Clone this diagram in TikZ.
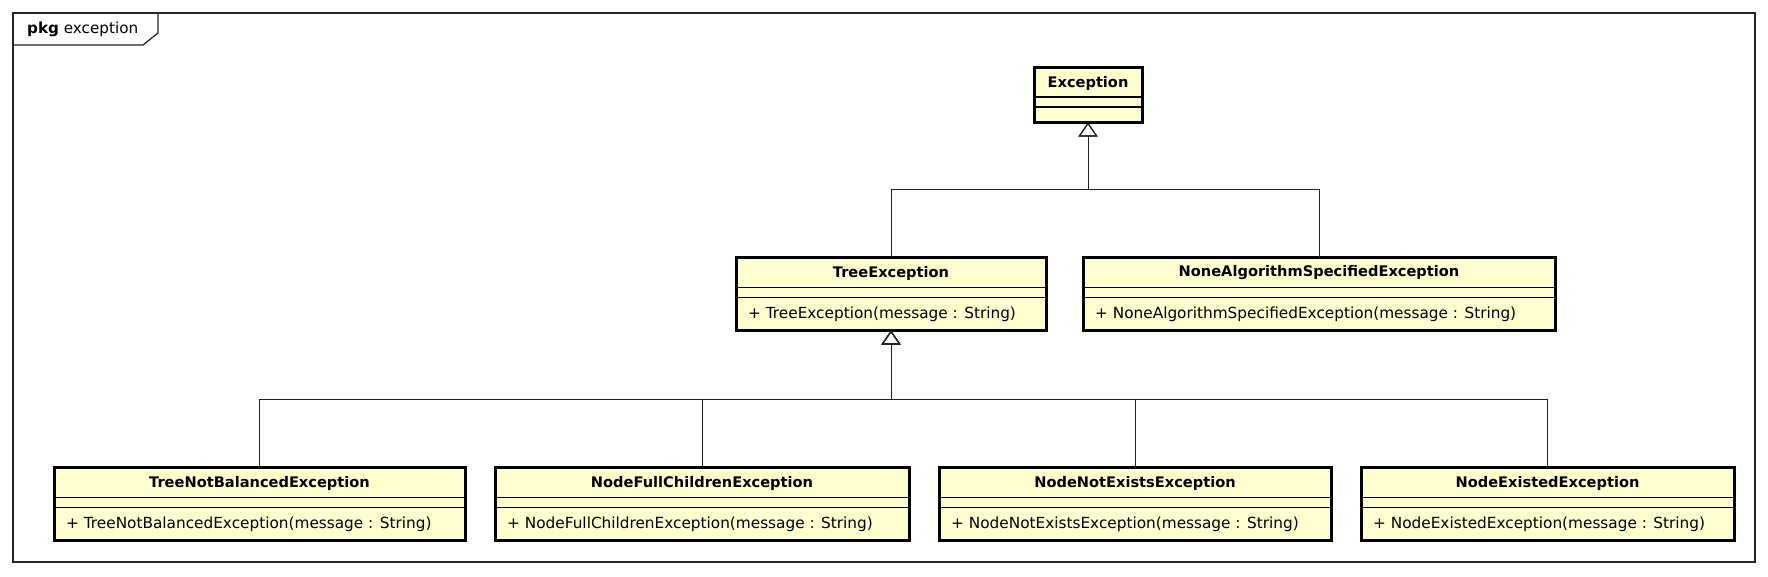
\documentclass[tikz,border=0pt]{standalone}
\usepackage{fontspec}
\setmainfont{DejaVu Sans}
\usetikzlibrary{arrows.meta}
\definecolor{classfill}{HTML}{FEFECE}
\definecolor{linegray}{HTML}{222222}
\tikzset{
  classbox/.style={draw=black, fill=classfill, line width=3pt, inner sep=0pt, outer sep=0pt, rectangle},
  sepline/.style={draw=black, line width=1.2pt},
  titletext/.style={inner sep=0pt, font=\fontsize{14.6}{17}\selectfont\bfseries},
  methtext/.style={inner sep=0pt, anchor=west, font=\fontsize{15.3}{17}\selectfont},
  gen/.style={draw=linegray, line width=1pt, -{Triangle[open, length=14pt, width=19pt, line width=1.1pt]}},
  frameline/.style={draw=black!85, line width=1.2pt},
}
\newcommand\umlclass[7]{%
  \node[classbox, minimum width={#4-#2}, minimum height={#5-#3}, anchor=north west] (#1) at (#2,#3) {};
  \draw[sepline] (#2,#3+30) -- (#4,#3+30);
  \draw[sepline] (#2,#3+40) -- (#4,#3+40);
  \node[titletext] (#1-t) at ({(#2+#4)/2},#3+15.5) {#6};
  \node[methtext] (#1-m) at (#2+12,#3+56.5) {#7};
}
\begin{document}
\begin{tikzpicture}[x=1pt, y=-1pt]
\useasboundingbox (0,0) rectangle (1768,576);
% package frame
\draw[frameline] (13,13) rectangle (1755,562);
\draw[frameline] (13,45) -- (143,45) -- (158,33) -- (158,13);
\node[anchor=west, inner sep=0pt, font=\fontsize{15.2}{17}\selectfont] (pkglabel) at (27,29.5) {\textbf{pkg} exception};
% Exception
\node[classbox, minimum width=108, minimum height=55, anchor=north west] (exc) at (1034,67.5) {};
\draw[sepline] (1034,97) -- (1142,97);
\draw[sepline] (1034,107) -- (1142,107);
\node[titletext] (exc-t) at (1088,83) {Exception};
% classes
\umlclass{te}{736}{257.5}{1046}{330.5}{TreeException}{+ TreeException(message : String)}
\umlclass{nas}{1083}{257.5}{1555}{330.5}{NoneAlgorithmSpecifiedException}{+ NoneAlgorithmSpecifiedException(message : String)}
\umlclass{tnb}{54}{467.5}{465}{540.5}{TreeNotBalancedException}{+ TreeNotBalancedException(message : String)}
\umlclass{nfc}{495}{467.5}{909}{540.5}{NodeFullChildrenException}{+ NodeFullChildrenException(message : String)}
\umlclass{nne}{939}{467.5}{1331}{540.5}{NodeNotExistsException}{+ NodeNotExistsException(message : String)}
\umlclass{nex}{1361}{467.5}{1734}{540.5}{NodeExistedException}{+ NodeExistedException(message : String)}
% connectors
\coordinate (bus1) at (1088,189);
\coordinate (bus2) at (891,399);
\draw[gen] (te.north) |- (bus1) -- (exc.south);
\draw[gen] (nas.north) |- (bus1) -- (exc.south);
\draw[gen] (tnb.north) |- (bus2) -- (te.south);
\draw[gen] (nfc.north) |- (bus2) -- (te.south);
\draw[gen] (nne.north) |- (bus2) -- (te.south);
\draw[gen] (nex.north) |- (bus2) -- (te.south);
\end{tikzpicture}
\end{document}
